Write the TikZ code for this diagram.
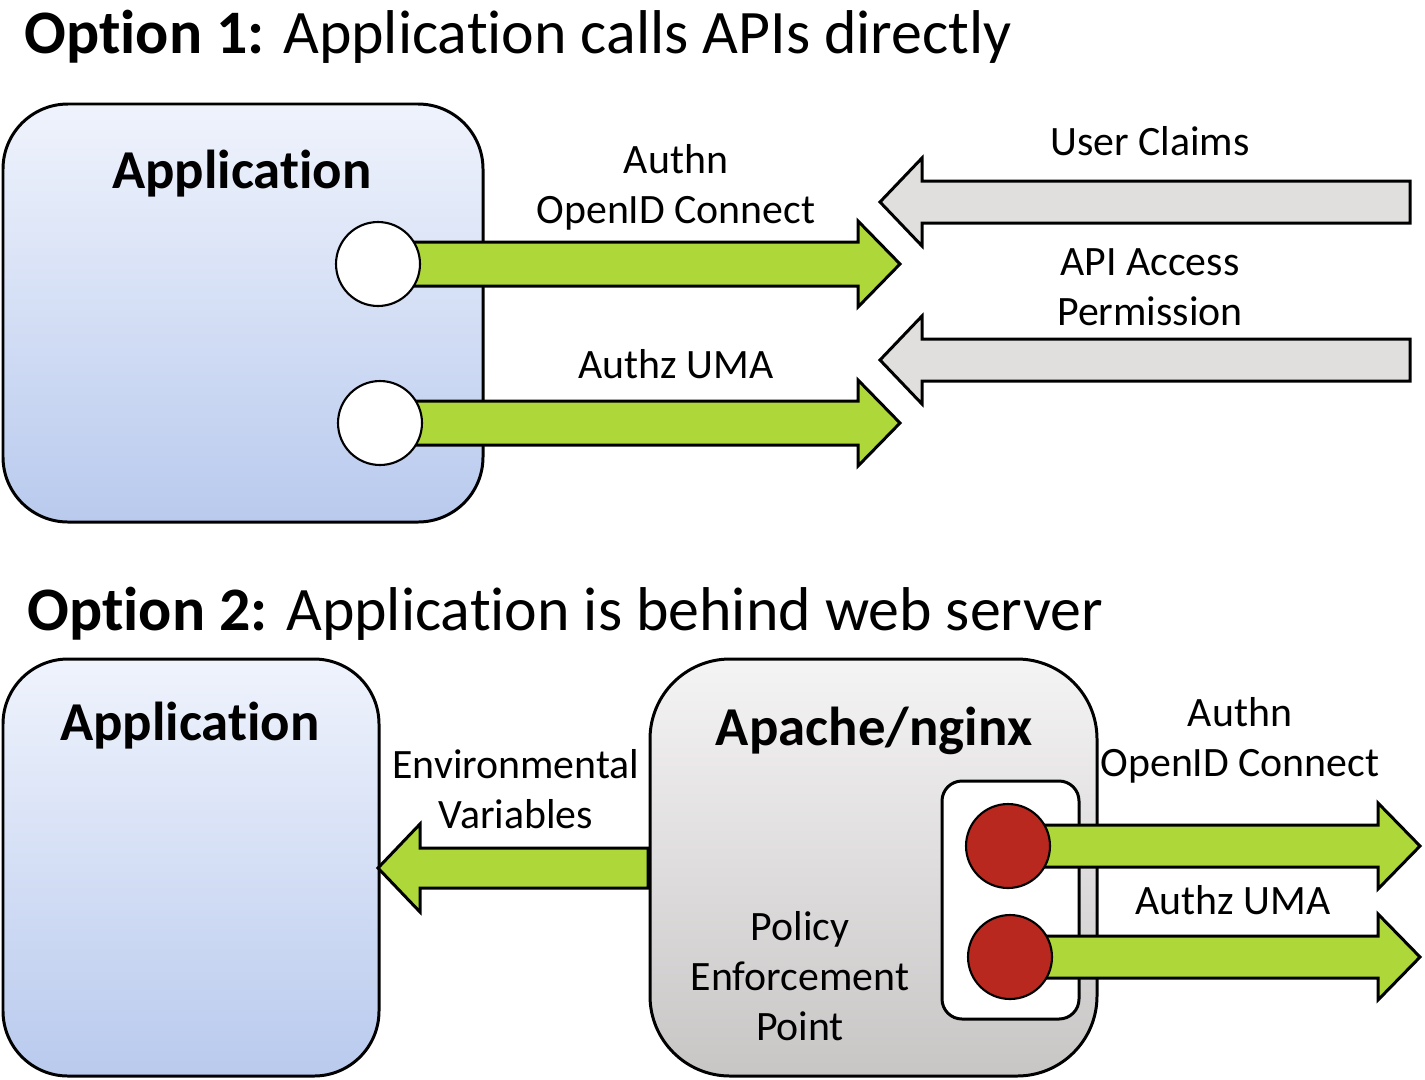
\documentclass[tikz,border=0pt]{standalone}
\usepackage{fontspec}
\setmainfont[Ligatures=NoCommon]{Carlito}
\usepackage{tikz}

\definecolor{umagreen}{RGB}{174,216,58}
\definecolor{claimgray}{RGB}{225,223,221}
\definecolor{pepred}{RGB}{185,40,30}
\definecolor{apptop}{RGB}{239,243,252}
\definecolor{appbottom}{RGB}{185,202,238}
\definecolor{webtop}{RGB}{245,244,244}
\definecolor{webbottom}{RGB}{200,197,197}

\begin{document}
\begin{tikzpicture}[x=0.02cm, y=-0.02cm]
		\tikzset{appbox/.style={draw, line width=1.7pt, rounded corners=1.3cm, top color=apptop, bottom color=appbottom},
			webbox/.style={draw, line width=1.7pt, rounded corners=1.6cm, top color=webtop, bottom color=webbottom},
			greenarrow/.style={draw, line width=1.7pt, fill=umagreen},
			grayarrow/.style={draw, line width=1.7pt, fill=claimgray},
			port/.style={circle, draw, line width=1.2pt, fill=white, minimum size=1.68cm, inner sep=0pt},
			pep/.style={port, fill=pepred},
			lbl/.style={inner sep=0pt, anchor=base, align=center, font=\fontsize{23.8}{28.3}\selectfont},
			boxtitle/.style={inner sep=0pt, anchor=base, font=\fontsize{31.2}{36}\selectfont\bfseries},
			heading/.style={inner sep=0pt, anchor=base west, font=\fontsize{35.2}{42}\selectfont}};
		\useasboundingbox (0,0) rectangle (1425,1079);
		
		% Option 1
		\node[heading] (head1) at (24,53) {\textbf{Option 1:} Application calls APIs directly};
		\draw[appbox] (3,104) rectangle (483,522);
		\node[boxtitle] (app1) at (242,188) {Application};
		\coordinate (authn1) at (378,264);
		\coordinate (authz1) at (380,423);
		\filldraw[greenarrow] (authn1) ++(0,-22) -- ++(480,0) -- ++(0,-21) -- ++(42,43) -- ++(-42,43) -- ++(0,-21) -- ++(-480,0) -- cycle;
		\filldraw[greenarrow] (authz1) ++(0,-22) -- ++(478,0) -- ++(0,-21) -- ++(42,43) -- ++(-42,43) -- ++(0,-21) -- ++(-478,0) -- cycle;
		\node[port] (authnport1) at (authn1) {};
		\node[port] (authzport1) at (authz1) {};
		\filldraw[grayarrow] (880,202) -- (922,158) -- (922,181) -- (1410,181) -- (1410,223) -- (922,223) -- (922,246) -- cycle;
		\filldraw[grayarrow] (880,360) -- (922,316) -- (922,339) -- (1410,339) -- (1410,381) -- (922,381) -- (922,404) -- cycle;
		\node[lbl] (authnlbl1) at (676,223) {Authn\\OpenID Connect};
		\node[lbl] (authzlbl1) at (676,378) {Authz UMA};
		\node[lbl] (claimslbl) at (1150,155) {User Claims};
		\node[lbl] (permlbl) at (1150,325) {API Access\\Permission};
		
		% Option 2
		\node[heading] (head2) at (27,630) {\textbf{Option 2:} Application is behind web server};
		\draw[appbox] (3,659) rectangle (379,1076);
		\node[boxtitle] (app2) at (190,740) {Application};
		\filldraw[greenarrow] (648,848) -- (420,848) -- (420,824) -- (378,868) -- (420,912) -- (420,888) -- (648,888) -- cycle;
		\draw[webbox] (650,659) rectangle (1097,1076);
		\node[boxtitle] (web) at (874,745) {Apache/nginx};
		\draw[line width=1.7pt, fill=white, rounded corners=0.4cm] (942,781) rectangle (1079,1019);
		\coordinate (authn2) at (1008,846);
		\coordinate (authz2) at (1010,957);
		\filldraw[greenarrow] (authn2) ++(0,-21) -- ++(370,0) -- ++(0,-22) -- ++(42,43) -- ++(-42,43) -- ++(0,-22) -- ++(-370,0) -- cycle;
		\filldraw[greenarrow] (authz2) ++(0,-21) -- ++(368,0) -- ++(0,-22) -- ++(42,43) -- ++(-42,43) -- ++(0,-22) -- ++(-368,0) -- cycle;
		\node[pep] (authnport2) at (authn2) {};
		\node[pep] (authzport2) at (authz2) {};
		\node[lbl] (envlbl) at (516,828) {Environmental\\Variables};
		\node[lbl] (authnlbl2) at (1240,776) {Authn\\OpenID Connect};
		\node[lbl] (authzlbl2) at (1233,914) {Authz UMA};
		\node[lbl] (peplbl) at (800,1040) {Policy\\Enforcement\\Point};
		
	\end{tikzpicture}
\end{document}
